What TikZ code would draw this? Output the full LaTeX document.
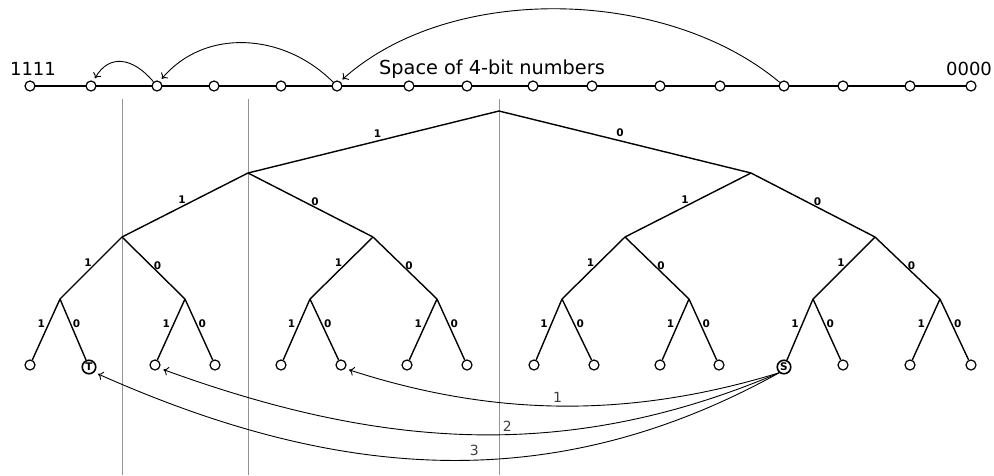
\documentclass[tikz,border=0pt]{standalone}
\usepackage{fontspec}
\setmainfont{DejaVu Sans}
\usetikzlibrary{arrows.meta}
\begin{document}
\begin{tikzpicture}[x=1pt,y=1pt,
  dot/.style={circle, draw, fill=white, line width=1.2pt, inner sep=0pt, minimum size=10pt},
  endpt/.style={circle, draw, fill=white, line width=1.6pt, inner sep=0pt, minimum size=13.5pt, font=\bfseries\fontsize{10.5}{10.5}\selectfont},
  edge/.style={line width=1.4pt},
  bitlbl/.style={font=\bfseries\fontsize{10.5}{10.5}\selectfont, inner sep=0pt},
  toplbl/.style={font=\fontsize{18}{18}\selectfont, inner sep=0pt},
  hoplbl/.style={font=\fontsize{14}{14}\selectfont, text=black!75, inner sep=1pt},
  guide/.style={black!42, line width=1pt},
  jump/.style={-{To[length=5pt,width=9pt]}, line width=0.9pt}]
\useasboundingbox (0,0) rectangle (994,-475);

% guide lines
\coordinate (g1t) at (122,-99); \coordinate (g1b) at (122,-475);
\coordinate (g2t) at (248,-99); \coordinate (g2b) at (248,-475);
\coordinate (g3t) at (499,-99); \coordinate (g3b) at (499,-475);
\draw[guide] (g1t) -- (g1b);
\draw[guide] (g2t) -- (g2b);
\draw[guide] (g3t) -- (g3b);

% number line
\foreach \i/\x in {1/30,2/91,3/157,4/214,5/281,6/337,7/409,8/467,9/533,10/592,11/660,12/720,13/784,14/843,15/910,16/971}
  \coordinate (q\i) at (\x,-86);
\foreach \i [evaluate=\i as \j using int(\i+1)] in {1,...,15}
  \draw[line width=1.4pt] (q\i) -- (q\j);
\foreach \i in {1,...,16}
  \node[dot] (p\i) at (q\i) {};

\node[toplbl] (t1111) at (33,-69) {1111};
\node[toplbl] (t0000) at (969,-69) {0000};
\node[toplbl, font=\fontsize{19.3}{19.3}\selectfont] (tspace) at (492,-69) {Space of 4-bit numbers};

\draw[jump, shorten >=3pt] (p3) to[out=130,in=60,looseness=1.35] (p2.65);
\draw[jump, shorten >=3pt] (p6) to[out=135,in=50,looseness=1.03] (p3.60);
\draw[jump, shorten >=3pt] (p13) to[out=140,in=42,looseness=0.86] (p6.55);

% tree
\coordinate (r) at (499,-111);
\coordinate (a1) at (248,-173); \coordinate (a2) at (751,-173);
\foreach \i/\x in {1/122,2/373,3/625,4/875} \coordinate (b\i) at (\x,-237);
\foreach \i/\x in {1/60,2/185,3/310,4/437,5/562,6/689,7/813,8/940} \coordinate (c\i) at (\x,-299);
\foreach \i/\x in {1/30,3/155,4/215,5/281,6/341,7/407,8/467,9/534,10/594,11/660,12/719,14/843,15/910,16/971}
  \node[dot] (l\i) at (\x,-365) {};
\node[endpt] (l2) at (89,-367) {T};
\node[endpt] (l13) at (784,-367) {S};

\draw[edge] (r) -- node[bitlbl,xshift=4pt,yshift=8pt]{1} (a1);
\draw[edge] (r) -- node[bitlbl,xshift=-5pt,yshift=9pt]{0} (a2);
\foreach \p/\lc/\rc in {a1/b1/b2, a2/b3/b4} {
  \draw[edge] (\p) -- node[bitlbl,xshift=-3pt,yshift=5pt]{1} (\lc);
  \draw[edge] (\p) -- node[bitlbl,xshift=4.5pt,yshift=3pt]{0} (\rc);
}
\foreach \p/\lc/\rc in {b1/c1/c2, b2/c3/c4, b3/c5/c6, b4/c7/c8} {
  \draw[edge] (\p) -- node[bitlbl,xshift=-3pt,yshift=5.5pt]{1} (\lc);
  \draw[edge] (\p) -- node[bitlbl,xshift=4pt,yshift=2.5pt]{0} (\rc);
}
\foreach \p/\lc/\rc in {c1/l1/l2, c2/l3/l4, c3/l5/l6, c4/l7/l8, c5/l9/l10, c6/l11/l12, c7/l13/l14, c8/l15/l16} {
  \draw[edge] (\p) -- node[bitlbl,xshift=-5pt,yshift=5.5pt]{1} (\lc);
  \draw[edge] (\p) -- node[bitlbl,xshift=3.5pt,yshift=5.5pt]{0} (\rc);
}

% hops from S
\draw[jump, shorten >=4pt] (l13.230) to[out=197,in=-18,looseness=0.92] node[hoplbl,pos=0.51,above=1.5pt]{1} (l6.-40);
\draw[jump, shorten >=4pt] (l13.230) to[out=203,in=-20,looseness=0.96] node[hoplbl,pos=0.44,above=2pt]{2} (l3.-35);
\draw[jump, shorten >=4pt] (l13.230) to[out=209,in=-24,looseness=0.98] node[hoplbl,pos=0.45,above=3pt]{3} (l2.-45);
\end{tikzpicture}
\end{document}
